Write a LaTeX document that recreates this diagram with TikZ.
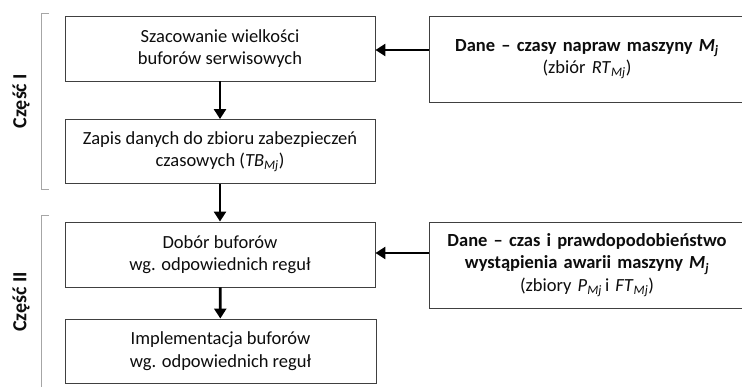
\documentclass[tikz,border=0pt]{standalone}
\usepackage{fontspec}
\setmainfont{Carlito}
\usetikzlibrary{arrows.meta}
\begin{document}
\begin{tikzpicture}[x=1pt,y=-1pt,
  txt/.style={font=\fontsize{18.5}{22.5}\selectfont, text=black!95, align=center},
  stepbox/.style={draw=black!75, line width=0.9pt, rectangle, inner sep=0pt, txt},
  flow/.style={line width=2.8pt, -{Triangle[length=10pt,width=12pt]}},
  part/.style={draw=black!35, line width=0.9pt},
  partlabel/.style={font=\fontsize{20}{22}\selectfont\bfseries, text=black!95, rotate=90}]
  \useasboundingbox (0,0) rectangle (742,387);
  \fill[white] (0,0) rectangle (742,387);
  \clip (0,0) rectangle (742,387);

  % main flow
  \node[stepbox, minimum width=310pt, minimum height=65pt] (b1) at (220,48.5)
    {Szacowanie wielkości\\buforów serwisowych};
  \node[stepbox, minimum width=310pt, minimum height=64pt] (b2) at (220,151.5)
    {Zapis danych do zbioru zabezpieczeń\\czasowych (\textit{TB}\textsubscript{\textit{Mj}})};
  \node[stepbox, minimum width=310pt, minimum height=65pt] (b3) at (220,254.5)
    {Dobór buforów\\wg. odpowiednich reguł};
  \node[stepbox, minimum width=311pt, minimum height=64pt] (b4) at (220.5,351)
    {Implementacja buforów\\wg. odpowiednich reguł};

  % input data
  \node[stepbox, minimum width=316pt, minimum height=86pt, text width=300pt] (r1) at (587,59)
    {\textbf{Dane -- czasy napraw maszyny \textit{M\textsubscript{j}}}\\(zbiór \textit{RT}\textsubscript{\textit{Mj}})};
  \node[stepbox, minimum width=316pt, minimum height=86pt, text width=300pt] (r2) at (587,265)
    {\textbf{Dane -- czas i prawdopodobieństwo}\\\textbf{wystąpienia awarii maszyny \textit{M\textsubscript{j}}}\\(zbiory \textit{P}\textsubscript{\textit{Mj}}\,i \textit{FT}\textsubscript{\textit{Mj}})};

  % connectors
  \draw[flow] (b1) -- (b2);
  \draw[flow] (b2) -- (b3);
  \draw[flow] (b3) -- (b4);
  \draw[flow] (r1.west |- 0,50) -- (b1.east |- 0,50);
  \draw[flow] (r2.west |- 0,253) -- (b3.east |- 0,253);

  % part brackets
  \draw[part] (49,13) -- (41,13) -- (41,189) -- (49,189);
  \draw[part] (49,215) -- (41,215) -- (41,390);
  \node[partlabel] (p1) at (21,101) {Część I};
  \node[partlabel] (p2) at (21,302) {Część II};
\end{tikzpicture}
\end{document}
